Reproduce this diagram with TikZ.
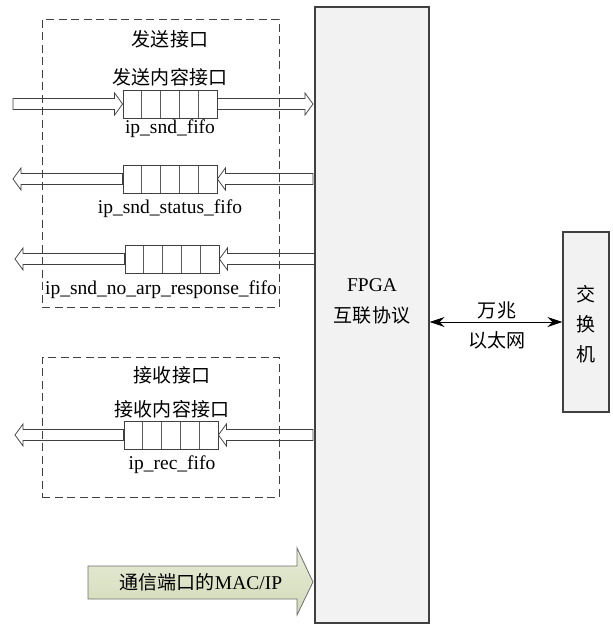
\documentclass[tikz,border=0pt]{standalone}
\usepackage{fontspec}
\setmainfont{Liberation Serif}
\newfontfamily\cjk[Scale=0.975]{Noto Sans CJK SC}
\usetikzlibrary{calc,arrows.meta}
\definecolor{linec}{HTML}{404040}
\definecolor{cellc}{HTML}{5A5A5A}
\definecolor{boxfill}{HTML}{F2F2F2}
\definecolor{macfillA}{HTML}{E6EBD6}
\definecolor{macfillB}{HTML}{D3DBB8}
\definecolor{macline}{HTML}{6E6E6E}
\newcommand\hollowarr[2]{%
  \draw[hollow] let \p1=(#1), \p2=(#2), \n1={ifthenelse(\x2>\x1,1,-1)} in
    (\x1,\y1+5.5pt) -- ({\x2-(\n1)*8pt},\y1+5.5pt) -- ({\x2-(\n1)*8pt},\y1+11pt)
    -- (\x2,\y1) -- ({\x2-(\n1)*8pt},\y1-11pt) -- ({\x2-(\n1)*8pt},\y1-5.5pt)
    -- (\x1,\y1-5.5pt) -- cycle;}
\begin{document}
\begin{tikzpicture}[x=1pt,y=-1pt,font=\fontsize{19.5}{23}\selectfont,
  lbl/.style={inner sep=0pt},
  dashbox/.style={draw=linec,line width=1pt,dash pattern=on 8pt off 4.5pt},
  bigbox/.style={draw=linec,fill=boxfill,line width=1.1pt,inner sep=0pt},
  hollow/.style={draw=linec,line width=0.75pt,line join=miter},
  fifo/.style={draw=linec,line width=0.8pt,minimum width=94pt,minimum height=28pt,inner sep=0pt,
    path picture={\foreach \i in {1,...,4}{\draw[cellc,line width=0.7pt]
      ($(path picture bounding box.south west)!\i/5!(path picture bounding box.south east)$) --
      ($(path picture bounding box.north west)!\i/5!(path picture bounding box.north east)$);}}},
  link/.style={{Stealth[length=15pt,width=10pt]}-{Stealth[length=15pt,width=10pt]},line width=0.9pt,draw=black}]
\useasboundingbox (0,0) rectangle (613,624);

% main blocks
\node[bigbox,minimum width=114pt,minimum height=616pt] (fpga) at (372,315) {};
\node[bigbox,minimum width=46pt,minimum height=180pt] (sw) at (586,322) {};
\node[lbl,anchor=base] (fpgat) at (372,291) {FPGA};
\node[lbl] (fpgac) at (372,315) {\cjk 互联协议};
\node[lbl] (sw1) at (586,294.5) {\cjk 交};
\node[lbl] (sw2) at (586,324) {\cjk 换};
\node[lbl] (sw3) at (586,354) {\cjk 机};

% ethernet link
\draw[link] (fpga.east |- sw.west) -- (sw.west);
\node[lbl] (eth1) at (497,310) {\cjk 万兆};
\node[lbl] (eth2) at (497,340) {\cjk 以太网};

% fifos
\node[fifo] (f1) at (170,104) {};
\node[fifo] (f2) at (170,179) {};
\node[fifo] (f3) at (172,259) {};
\node[fifo] (f4) at (171,435) {};

% arrow end points
\coordinate (a1s) at (13,104);
\coordinate (a1e) at (313,104);
\coordinate (a2s) at (313,179);
\coordinate (a2e) at (13,179);
\coordinate (a3s) at (315,259);
\coordinate (a3e) at (15,259);
\coordinate (a4s) at (313,435);
\coordinate (a4e) at (15,435);

\hollowarr{a1s}{f1.west}
\hollowarr{f1.east}{a1e}
\hollowarr{a2s}{f2.east}
\hollowarr{f2.west}{a2e}
\hollowarr{a3s}{f3.east}
\hollowarr{f3.west}{a3e}
\hollowarr{a4s}{f4.east}
\hollowarr{f4.west}{a4e}

% dashed groups
\node[dashbox,minimum width=237pt,minimum height=288pt] (send) at (160.5,163) {};
\node[dashbox,minimum width=237pt,minimum height=140pt] (recv) at (160.5,427) {};

% labels
\node[lbl] (t1) at (170,39) {\cjk 发送接口};
\node[lbl] (t2) at (170,77) {\cjk 发送内容接口};
\node[lbl,anchor=base] (l1) at (170,133.5) {ip\_snd\_fifo};
\node[lbl,anchor=base] (l2) at (170,213) {ip\_snd\_status\_fifo};
\node[lbl,anchor=base] (l3) at (161,294) {ip\_snd\_no\_arp\_response\_fifo};
\node[lbl] (t3) at (172,375) {\cjk 接收接口};
\node[lbl] (t4) at (172,409) {\cjk 接收内容接口};
\node[lbl,anchor=base] (l4) at (172,469) {ip\_rec\_fifo};

% MAC/IP arrow
\coordinate (m1) at (88,566);
\coordinate (m2) at (297,566);
\coordinate (m3) at (297,548);
\coordinate (m4) at (313,582);
\coordinate (m5) at (297,615);
\coordinate (m6) at (297,599);
\coordinate (m7) at (88,599);
\draw[draw=macline,line width=0.8pt,top color=macfillA,bottom color=macfillB,line join=miter]
  (m1) -- (m2) -- (m3) -- (m4) -- (m5) -- (m6) -- (m7) -- cycle;
\node[lbl] (mac) at (201,582) {\cjk 通信端口的\rmfamily MAC/IP};
\end{tikzpicture}
\end{document}
